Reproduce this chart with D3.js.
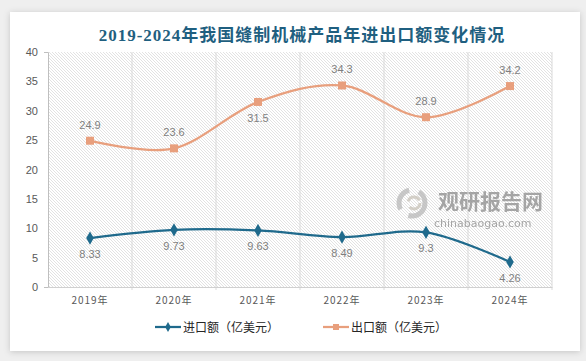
<!DOCTYPE html>
<html>
<head>
<meta charset="utf-8">
<script src="https://cdn.jsdelivr.net/npm/d3@7"></script>
<style>
  html, body { margin: 0; padding: 0; background: #efefef; }
  svg { display: block; }
</style>
</head>
<body>
<div id="chart"></div>
<script>
// chart data
var years = ["2019年", "2020年", "2021年", "2022年", "2023年", "2024年"];
var importVals = [8.33, 9.73, 9.63, 8.49, 9.3, 4.26];
var exportVals = [24.9, 23.6, 31.5, 34.3, 28.9, 34.2];
var exportLabelBelow = [false, false, true, false, false, false];
var yTicks = [0, 5, 10, 15, 20, 25, 30, 35, 40];
var titleText = "2019-2024年我国缝制机械产品年进出口额变化情况";
var seriesNames = ["进口额（亿美元）", "出口额（亿美元）"];

var W = 586, H = 361;
var plot = {left: 48, right: 552, top: 52, bottom: 287};
var colors = {imp: "#1f6a8c", exp: "#e89f7d", text: "#595959", label: "#7f7f7f", grid: "#d9d9d9"};

var svg = d3.select("#chart").append("svg")
    .attr("width", W)
    .attr("height", H);

var defs = svg.append("defs");

var shadow = defs.append("filter").attr("id", "shadow")
    .attr("x", "-5%").attr("y", "-5%").attr("width", "110%").attr("height", "112%");
shadow.append("feDropShadow")
    .attr("dx", 0).attr("dy", 1).attr("stdDeviation", 3)
    .attr("flood-color", "#000").attr("flood-opacity", 0.18);

var hatch = defs.append("pattern").attr("id", "hatch")
    .attr("patternUnits", "userSpaceOnUse")
    .attr("width", 3).attr("height", 3);
hatch.append("path")
    .attr("d", "M0,0 L3,3 M-1,2 L1,4 M2,-1 L4,1")
    .attr("stroke", "#cfcfcf")
    .attr("stroke-width", 0.6);

// card
svg.append("rect")
    .attr("x", 10).attr("y", 12)
    .attr("width", 570).attr("height", 339)
    .attr("fill", "#fff")
    .attr("filter", "url(#shadow)");

svg.append("text")
    .attr("x", 302).attr("y", 41)
    .attr("text-anchor", "middle")
    .style("font-family", "'Liberation Serif', 'Noto Sans CJK SC', serif")
    .style("font-weight", "bold")
    .style("font-size", "17px")
    .style("letter-spacing", "1px")
    .style("fill", "#1f5f80")
    .text(titleText);

var x = d3.scaleBand().domain(years).range([plot.left, plot.right]);
var y = d3.scaleLinear().domain([0, 40]).range([plot.bottom, plot.top]);

// hatched plot area
svg.append("rect")
    .attr("x", plot.left).attr("y", plot.top)
    .attr("width", plot.right - plot.left).attr("height", plot.bottom - plot.top)
    .attr("fill", "url(#hatch)");

// vertical gridlines between categories
svg.append("g").selectAll("line")
    .data(years.slice(1).concat(["end"]))
    .enter().append("line")
    .attr("x1", function(d, i) { return plot.left + x.step() * (i + 1); })
    .attr("x2", function(d, i) { return plot.left + x.step() * (i + 1); })
    .attr("y1", plot.top)
    .attr("y2", plot.bottom + 3)
    .attr("stroke", colors.grid)
    .attr("stroke-width", 1);

// y axis
var yAxis = svg.append("g")
    .attr("transform", "translate(" + plot.left + ",0)")
    .call(d3.axisLeft(y).tickValues(yTicks).tickSizeInner(0).tickSizeOuter(4).tickPadding(10));
yAxis.select(".domain").attr("stroke", "#bfbfbf");
yAxis.selectAll("text")
    .style("font-family", "'Liberation Sans', Arial, sans-serif")
    .style("font-size", "11px")
    .style("fill", colors.text);

// x axis
var xAxis = svg.append("g")
    .attr("transform", "translate(0," + plot.bottom + ")")
    .call(d3.axisBottom(x).tickSize(0).tickPadding(10));
xAxis.select(".domain").attr("stroke", "#d0d0d0");
xAxis.selectAll("text")
    .style("font-family", "'Noto Sans CJK SC', sans-serif")
    .style("font-size", "10px")
    .style("letter-spacing", "1px")
    .style("fill", colors.text);

// watermark
var wm = svg.append("g").attr("opacity", 0.75);
wm.append("circle").attr("cx", 412).attr("cy", 203).attr("r", 13)
    .attr("fill", "none").attr("stroke", "#b8b8b8").attr("stroke-width", 5)
    .attr("stroke-dasharray", "24 10");
wm.append("circle").attr("cx", 414).attr("cy", 203).attr("r", 6)
    .attr("fill", "none").attr("stroke", "#c8c2b8").attr("stroke-width", 3)
    .attr("stroke-dasharray", "14 6");
wm.append("text")
    .attr("x", 438).attr("y", 209)
    .style("font-family", "'Noto Sans CJK SC', sans-serif")
    .style("font-weight", "bold")
    .style("font-size", "21px")
    .style("fill", "#8a8a8a")
    .text("观研报告网");
wm.append("text")
    .attr("x", 434).attr("y", 227)
    .style("font-family", "'DejaVu Sans', sans-serif")
    .style("font-size", "11px")
    .style("fill", "#8a8a8a")
    .text("chinabaogao.com");

var cx = function(d, i) { return x(years[i]) + x.bandwidth() / 2; };
var line = d3.line()
    .x(cx)
    .y(function(d) { return y(d); })
    .curve(d3.curveCardinal.tension(0));

function drawSeries(vals, color, shape, size) {
    var g = svg.append("g");
    g.append("path")
        .datum(vals)
        .attr("d", line)
        .attr("fill", "none")
        .attr("stroke", color)
        .attr("stroke-width", 2.25);
    g.selectAll(".pt")
        .data(vals)
        .enter().append("path")
        .attr("class", "pt")
        .attr("transform", function(d, i) { return "translate(" + cx(d, i) + "," + y(d) + ")"; })
        .attr("d", d3.symbol().type(shape).size(size))
        .attr("fill", color);
    return g;
}

drawSeries(exportVals, colors.exp, d3.symbolSquare, 64);
drawSeries(importVals, colors.imp, d3.symbolDiamond, 50);

function drawLabels(vals, below) {
    svg.append("g").selectAll("text")
        .data(vals)
        .enter().append("text")
        .attr("x", cx)
        .attr("y", function(d, i) { return y(d) + (below[i] ? 20 : -12); })
        .attr("text-anchor", "middle")
        .style("font-family", "'Liberation Sans', Arial, sans-serif")
        .style("font-size", "11px")
        .style("fill", colors.label)
        .text(function(d) { return d; });
}
drawLabels(exportVals, exportLabelBelow);
drawLabels(importVals, importVals.map(function() { return true; }));

// legend
var legend = [
    {name: seriesNames[0], color: colors.imp, shape: d3.symbolDiamond, size: 28, x: 155},
    {name: seriesNames[1], color: colors.exp, shape: d3.symbolSquare, size: 36, x: 323}
];
var lg = svg.append("g").selectAll("g")
    .data(legend)
    .enter().append("g")
    .attr("transform", function(d) { return "translate(" + d.x + ",327)"; });
lg.append("line")
    .attr("x1", 0).attr("x2", 26)
    .attr("stroke", function(d) { return d.color; })
    .attr("stroke-width", 2.25);
lg.append("path")
    .attr("transform", "translate(13,0)")
    .attr("d", function(d) { return d3.symbol().type(d.shape).size(d.size)(); })
    .attr("fill", function(d) { return d.color; });
lg.append("text")
    .attr("x", 28).attr("y", 4.5)
    .style("font-family", "'Noto Sans CJK SC', sans-serif")
    .style("font-size", "12px")
    .style("fill", "#262626")
    .text(function(d) { return d.name; });
</script>
</body>
</html>
